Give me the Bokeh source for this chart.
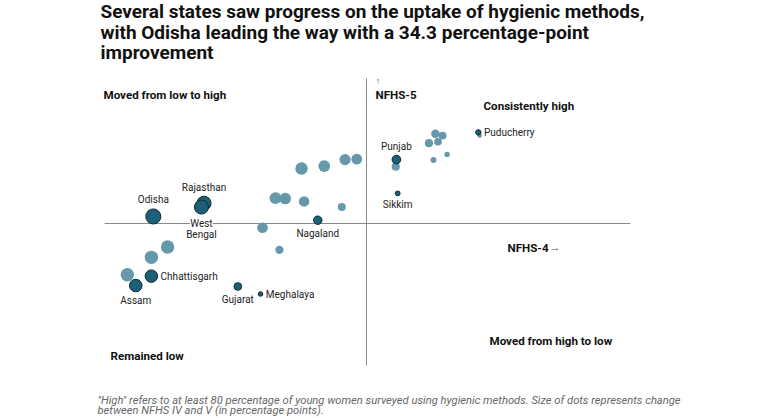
import numpy as np
from bokeh.plotting import figure
from bokeh.models import Label, Range1d, ColumnDataSource
from bokeh.embed import file_html
from bokeh.resources import INLINE

# ---- data ----
# labelled states (highlighted, dark)
states = ["Odisha", "Rajasthan", "West Bengal", "Nagaland", "Chhattisgarh", "Assam",
          "Gujarat", "Meghalaya", "Punjab", "Sikkim", "Puducherry"]
nfhs4_lab = [47.2, 55.0, 54.6, 72.5, 46.9, 44.5, 60.2, 63.7, 84.6, 84.8, 97.2]
nfhs5_lab = [81.5, 84.3, 83.5, 80.7, 68.8, 66.8, 66.6, 65.0, 93.6, 86.4, 99.4]

# other states (unlabelled, light)
nfhs4_oth = [43.2, 46.9, 49.4, 64.0, 66.6, 66.0, 67.5, 70.4, 76.2, 70.0, 73.5,
             76.7, 78.5, 84.5, 90.6, 91.7, 89.6, 91.0, 92.4, 90.3, 97.4]
nfhs5_oth = [69.1, 72.8, 75.0, 79.1, 74.4, 85.4, 85.3, 84.7, 83.5, 91.7, 92.2,
             93.6, 93.7, 92.1, 99.1, 98.7, 97.1, 97.4, 94.7, 93.5, 98.7]

threshold = 80  # "high" = at least 80 %

title_lines = ["Several states saw progress on the uptake of hygienic methods,",
               "with Odisha leading the way with a 34.3 percentage-point",
               "improvement"]
note_lines = ['"High" refers to at least 80 percentage of young women surveyed using hygienic methods. Size of dots represents change',
              "between NFHS IV and V (in percentage points)."]

# ---- layout / styling ----
W, H = 772, 418
FONT = "Roboto"
DARK = "#1c5f77"
DARK_LINE = "#0c2c38"
LIGHT = "#6598aa"
TXT = "#222222"
GRID = "#8a8a8a"

# quadrant extent (data units) and figure ranges (whole canvas)
quad_x = (39.7, 120.6)
quad_y = (49.8, 110.85)
x_rng = (23.69, 142.46)
y_rng = (38.51, 127.45)


def radius_px(a4, a5):
    ch = np.clip(np.asarray(a5) - np.asarray(a4), 0, None)
    return 1.0 + 1.12 * np.sqrt(ch)


p = figure(width=W, height=H, output_backend="svg", toolbar_location=None,
           x_range=Range1d(*x_rng), y_range=Range1d(*y_rng), min_border=0)
p.min_border_left = p.min_border_right = p.min_border_top = p.min_border_bottom = 0
p.axis.visible = False
p.grid.visible = False
p.outline_line_color = None
p.background_fill_color = "white"
p.border_fill_color = "white"

# quadrant divider lines
p.segment(x0=[threshold, quad_x[0]], y0=[quad_y[0], threshold],
          x1=[threshold, quad_x[1]], y1=[quad_y[1], threshold],
          line_color=GRID, line_width=1)

r_oth = radius_px(nfhs4_oth, nfhs5_oth)
src_o = ColumnDataSource(dict(x=nfhs4_oth, y=nfhs5_oth, s=2 * r_oth))
p.scatter("x", "y", size="s", source=src_o, fill_color=LIGHT, line_color=None)

r_lab = radius_px(nfhs4_lab, nfhs5_lab)
src_l = ColumnDataSource(dict(x=nfhs4_lab, y=nfhs5_lab, s=2 * r_lab, name=states))
p.scatter("x", "y", size="s", source=src_l, fill_color=DARK,
          line_color=DARK_LINE, line_width=1)

placement = {"Odisha": "above", "Rajasthan": "above", "West Bengal": "below",
             "Nagaland": "below", "Chhattisgarh": "right", "Assam": "below",
             "Gujarat": "below", "Meghalaya": "right", "Punjab": "above",
             "Sikkim": "below", "Puducherry": "right"}

for name, x, y, r in zip(states, nfhs4_lab, nfhs5_lab, r_lab):
    pl = placement[name]
    common = dict(x=x, y=y, text_font=FONT, text_font_size="10px", text_color=TXT)
    if pl == "above":
        p.add_layout(Label(text=name, text_align="center", text_baseline="alphabetic",
                           y_offset=r + 9, **common))
    elif pl == "right":
        p.add_layout(Label(text=name, text_align="left", text_baseline="middle",
                           x_offset=r + 3, **common))
    else:
        parts = name.split(" ")
        for k, part in enumerate(parts):
            kw = {}
            if len(parts) > 1 and k == 0:
                kw = dict(background_fill_color="white")
            p.add_layout(Label(text=part, text_align="center", text_baseline="alphabetic",
                               y_offset=-(r + 9 + 11.5 * k), **kw, **common))


def scr(text, px, py, size=11.6, style="bold", color="#111111", align="left"):
    # px, py: picture pixel position of the text baseline (from top-left)
    anchor = py - 0.33 * size
    p.add_layout(Label(text=text, x=px, y=H - anchor, x_units="screen", y_units="screen",
                       text_font=FONT, text_font_size=f"{size}px", text_font_style=style,
                       text_color=color, text_align=align, text_baseline="alphabetic"))


# title
for i, t in enumerate(title_lines):
    scr(t, 100, 17.3 + 20.6 * i, size=19, style="bold", color="#111111")

# quadrant labels
scr("Moved from low to high", 103, 98.7)
scr("Consistently high", 483, 109)
scr("Moved from high to low", 489, 344)
scr("Remained low", 110, 359.3)
scr("\u2191", 377.5, 83.5, size=9, style="normal", color="#555555", align="center")
scr("NFHS-5", 375, 98)
scr("NFHS-4", 507, 251)
scr("\u2192", 554.5, 251, size=11, style="normal", color="#555555", align="center")

# footnote
for i, t in enumerate(note_lines):
    scr(t, 97, 403.3 + 10.8 * i, size=11.2, style="italic", color="#666666")

open("out.html", "w").write(file_html(p, INLINE))
